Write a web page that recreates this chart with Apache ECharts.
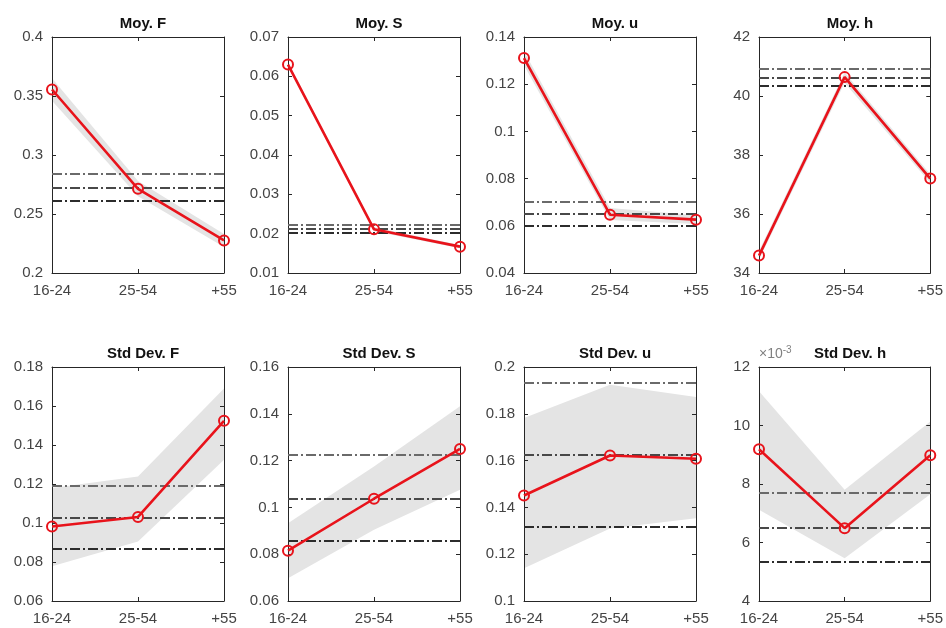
<!DOCTYPE html>
<html>
<head>
<meta charset="utf-8">
<script src="https://cdn.jsdelivr.net/npm/echarts@6/dist/echarts.min.js"></script>
<style>
html,body{margin:0;padding:0;background:#fff;}
#chart{width:946px;height:628px;}
</style>
</head>
<body>
<div id="chart"></div>
<script>
// ---- data ----
const categories = ['16-24', '25-54', '+55'];
const panelTitles = ['Moy. F', 'Moy. S', 'Moy. u', 'Moy. h', 'Std Dev. F', 'Std Dev. S', 'Std Dev. u', 'Std Dev. h'];

// red line values (Std Dev. h in units of 1e-3)
const moyF = [0.3555, 0.2713, 0.2276];
const moyS = [0.0630, 0.0211, 0.0167];
const moyU = [0.1311, 0.0647, 0.0626];
const moyH = [34.59, 40.64, 37.20];
const stdF = [0.0982, 0.1031, 0.1524];
const stdS = [0.0815, 0.1037, 0.1250];
const stdU = [0.1451, 0.1622, 0.1608];
const stdH = [9.19, 6.49, 8.98];

// grey band lower / upper bounds
const moyFLow = [0.346, 0.265, 0.222];
const moyFHigh = [0.365, 0.278, 0.233];
const moySLow = [0.0625, 0.0206, 0.0163];
const moySHigh = [0.0635, 0.0216, 0.0171];
const moyULow = [0.128, 0.0625, 0.0608];
const moyUHigh = [0.134, 0.0675, 0.0645];
const moyHLow = [34.45, 40.45, 37.05];
const moyHHigh = [34.75, 40.80, 37.35];
const stdFLow = [0.0778, 0.0905, 0.1325];
const stdFHigh = [0.1180, 0.1238, 0.1690];
const stdSLow = [0.0697, 0.0904, 0.1075];
const stdSHigh = [0.0932, 0.1175, 0.1432];
const stdULow = [0.1140, 0.1310, 0.1354];
const stdUHigh = [0.1782, 0.1924, 0.1872];
const stdHLow = [7.12, 5.46, 7.65];
const stdHHigh = [11.17, 7.80, 10.14];

// horizontal dash-dot reference levels (upper, middle, lower)
const moyFRef = [0.2840, 0.2724, 0.2610];
const moySRef = [0.0222, 0.0212, 0.0203];
const moyURef = [0.0701, 0.0650, 0.0599];
const moyHRef = [40.93, 40.63, 40.34];
const stdFRef = [0.1192, 0.1029, 0.0870];
const stdSRef = [0.1223, 0.1038, 0.0858];
const stdURef = [0.1932, 0.1623, 0.1318];
const stdHRef = [7.69, 6.51, 5.35];

// axis ranges / tick spacing
const yMins = [0.2, 0.01, 0.04, 34, 0.06, 0.06, 0.1, 4];
const yMaxs = [0.4, 0.07, 0.14, 42, 0.18, 0.16, 0.2, 12];
const yIntervals = [0.05, 0.01, 0.02, 2, 0.02, 0.02, 0.02, 2];

const lines = [moyF, moyS, moyU, moyH, stdF, stdS, stdU, stdH];
const lows = [moyFLow, moySLow, moyULow, moyHLow, stdFLow, stdSLow, stdULow, stdHLow];
const highs = [moyFHigh, moySHigh, moyUHigh, moyHHigh, stdFHigh, stdSHigh, stdUHigh, stdHHigh];
const refs = [moyFRef, moySRef, moyURef, moyHRef, stdFRef, stdSRef, stdURef, stdHRef];

// ---- layout ----
const lefts = [52, 288, 524, 759];
const plotW = 172;
const tops = [37, 367];
const heights = [236, 234];
const refColors = ['#6a6a6a', '#484848', '#2c2c2c'];
const FONT = 'Liberation Sans, Arial, Helvetica, sans-serif';
const labelColor = '#444444';
const axisColor = '#262626';
const red = '#e8131b';

const grid = [], xAxis = [], yAxis = [], series = [], title = [];

function fmt(v) { return String(parseFloat(Number(v).toFixed(6))); }

for (let i = 0; i < 8; i++) {
  const row = Math.floor(i / 4), col = i % 4;
  const left = lefts[col], top = tops[row], h = heights[row];
  grid.push({ left: left, top: top, width: plotW, height: h, containLabel: false, show: false });
  title.push({
    text: panelTitles[i], left: left + plotW / 2, top: top - 26, textAlign: 'center',
    textStyle: { fontFamily: FONT, fontSize: 15, fontWeight: 'bold', color: '#111' }
  });
  const gi = i;
  xAxis.push({
    type: 'category', gridIndex: gi, data: categories, boundaryGap: false, position: 'bottom',
    axisLine: { show: true, lineStyle: { color: axisColor, width: 1 } },
    axisTick: { show: true, inside: true, length: 4, alignWithLabel: true, lineStyle: { color: axisColor } },
    axisLabel: { color: labelColor, fontSize: 15, fontFamily: FONT, margin: 10, interval: 0,
      showMinLabel: true, showMaxLabel: true },
    splitLine: { show: false }
  });
  xAxis.push({
    type: 'category', gridIndex: gi, data: categories, boundaryGap: false, position: 'top',
    axisLine: { show: true, lineStyle: { color: axisColor, width: 1 } },
    axisTick: { show: true, inside: true, length: 4, lineStyle: { color: axisColor } },
    axisLabel: { show: false }, splitLine: { show: false }
  });
  const yBase = {
    type: 'value', gridIndex: gi, min: yMins[i], max: yMaxs[i], interval: yIntervals[i],
    splitLine: { show: false }
  };
  const yLeft = Object.assign({}, yBase, {
    position: 'left',
    axisLine: { show: true, lineStyle: { color: axisColor, width: 1 } },
    axisTick: { show: true, inside: true, length: 4, lineStyle: { color: axisColor } },
    axisLabel: { color: labelColor, fontSize: 15, fontFamily: FONT, margin: 9, formatter: fmt }
  });
  if (i === 7) {
    yLeft.name = '{a|×10}{b|-3}';
    yLeft.nameLocation = 'end';
    yLeft.nameGap = 4;
    yLeft.nameTextStyle = {
      align: 'left', padding: [0, 0, 0, 0],
      rich: {
        a: { color: '#808080', fontSize: 14, fontFamily: FONT },
        b: { color: '#808080', fontSize: 10, fontFamily: FONT, verticalAlign: 'top', padding: [0, 0, 8, 0] }
      }
    };
  }
  yAxis.push(yLeft);
  yAxis.push(Object.assign({}, yBase, {
    position: 'right',
    axisLine: { show: true, lineStyle: { color: axisColor, width: 1 } },
    axisTick: { show: true, inside: true, length: 4, lineStyle: { color: axisColor } },
    axisLabel: { show: false }
  }));
  const xi = 2 * i, yi = 2 * i;
  const bandGap = highs[i].map((v, k) => v - lows[i][k]);
  series.push({
    type: 'line', xAxisIndex: xi, yAxisIndex: yi, data: lows[i], stack: 'band' + i,
    symbol: 'none', lineStyle: { opacity: 0 }, silent: true, z: 1,
    markLine: {
      silent: true, symbol: 'none', label: { show: false }, animation: false, precision: 8,
      data: refs[i].map((v, k) => ({
        yAxis: v,
        lineStyle: { color: refColors[k], width: 2, type: [10, 3, 2, 3] }
      }))
    }
  });
  series.push({
    type: 'line', xAxisIndex: xi, yAxisIndex: yi, data: bandGap, stack: 'band' + i,
    symbol: 'none', lineStyle: { opacity: 0 }, areaStyle: { color: '#e4e4e4', opacity: 1 },
    silent: true, z: 0
  });
  series.push({
    type: 'line', xAxisIndex: xi, yAxisIndex: yi, data: lines[i], z: 5,
    symbol: 'circle', symbolSize: 10,
    lineStyle: { color: red, width: 2.6 },
    itemStyle: { color: 'rgba(255,255,255,0)', borderColor: red, borderWidth: 2 }
  });
}

const chart = echarts.init(document.getElementById('chart'), null, { renderer: 'canvas' });
chart.setOption({
  animation: false,
  backgroundColor: '#ffffff',
  title: title, grid: grid, xAxis: xAxis, yAxis: yAxis, series: series
});
</script>
</body>
</html>
